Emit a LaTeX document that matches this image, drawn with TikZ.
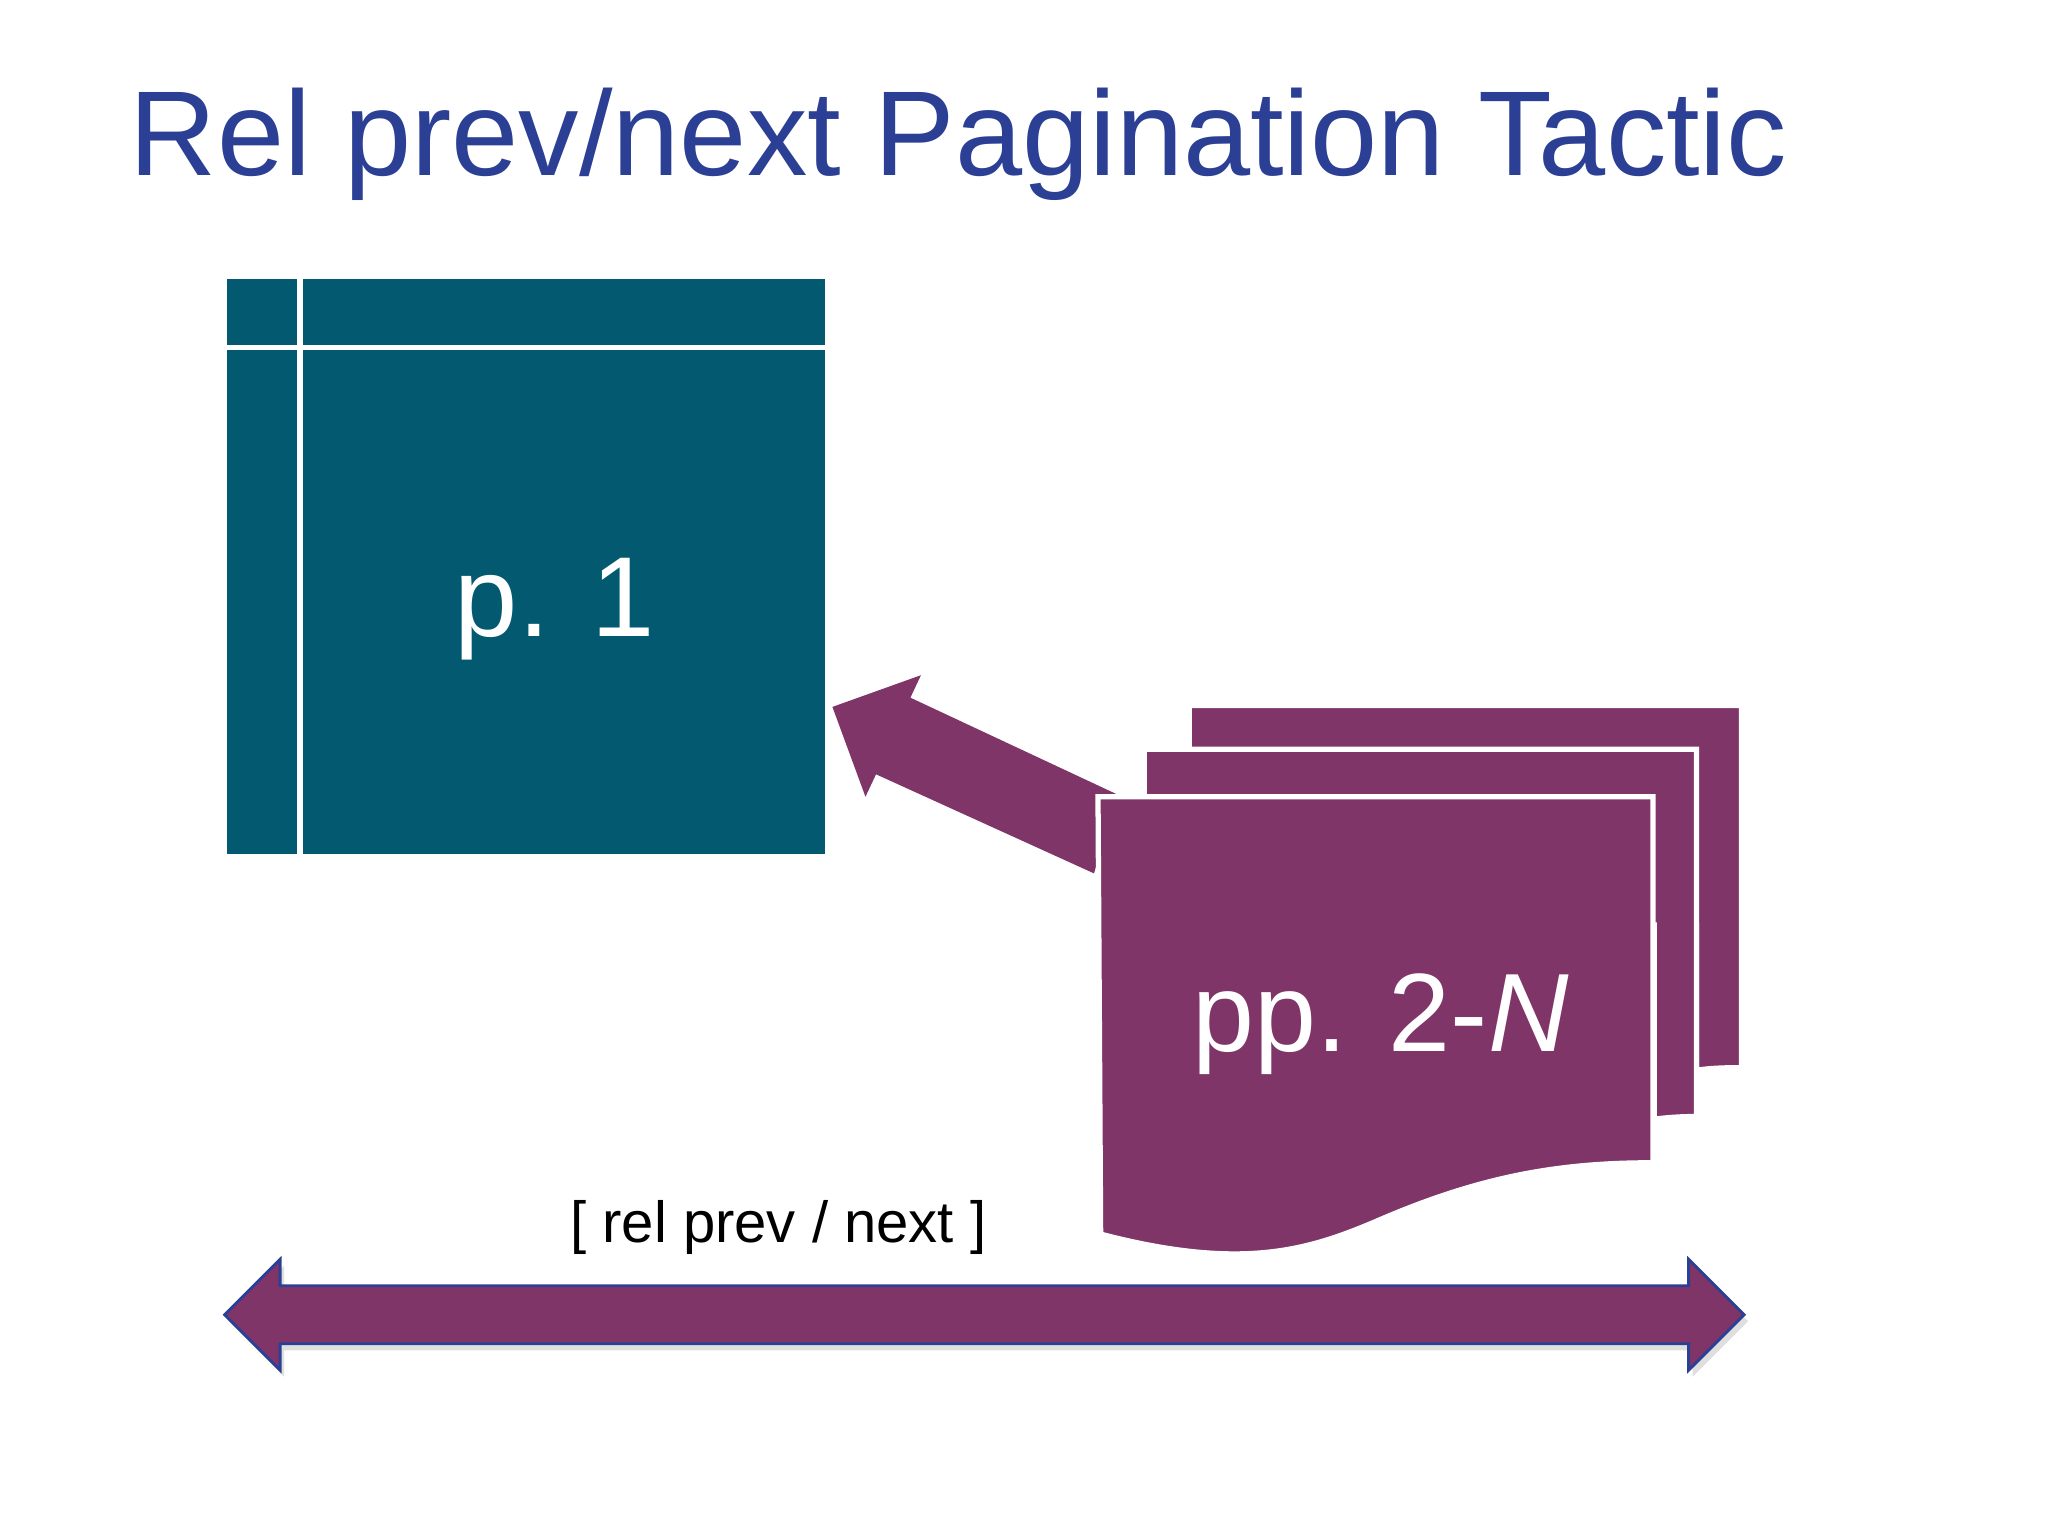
\documentclass[tikz,border=0pt]{standalone}
\usepackage{fontspec}
\setmainfont{Liberation Sans}
\definecolor{ttl}{HTML}{2B3F95}
\definecolor{teal}{HTML}{035A70}
\definecolor{plum}{HTML}{7F3567}
\begin{document}
\begin{tikzpicture}[x=0.02cm,y=-0.02cm,
  page/.style={fill=plum,draw=white,line width=4*0.567pt},
  wt/.style={text=white,inner sep=0pt}]
\useasboundingbox (0,0) rectangle (1550,1162.5);
\fill[white] (0,0) rectangle (1550,1162.5);
\node[text=ttl,font=\fontsize{52}{60}\selectfont,anchor=base west,inner sep=0pt] (title) at (98,133) {Rel prev/next Pagination Tactic};
% page 1
\fill[teal] (172,211) rectangle (624,646);
\draw[white,line width=4*0.567pt] (227,211) -- (227,646) (172,263) -- (624,263);
\node[wt,font=\fontsize{49}{56}\selectfont,anchor=base] (p1) at (420,482) {p. 1};
% arrow
\fill[plum] (828,661) -- (663,586) -- (655,603) -- (630,535) -- (697,511) -- (689,528) -- (845,601) -- cycle;
% stack
\draw[page] (900,534) -- (1318,534) -- (1318,808) .. controls (1300,808) and (1290,809) .. (1284,810) -- (1284,700) -- (900,700) -- cycle;
\draw[page] (866,567) -- (1284,567) -- (1284,845) .. controls (1270,845) and (1260,846) .. (1252,847) -- (1252,700) -- (866,700) -- cycle;
\draw[page] (831,603) -- (1251,603) -- (1251,880) .. controls (1180,880) and (1120,890) .. (1040,925) .. controls (990,946) and (940,962) .. (833,934) -- cycle;
\node[wt,font=\fontsize{48}{56}\selectfont,anchor=base] (pp) at (1045,796) {pp. 2-\textit{N}};
% label
\node[font=\fontsize{25}{30}\selectfont,anchor=base,inner sep=0pt] (lbl) at (589,940) {[ rel prev / next ]};
% double arrow
\fill[gray!25] (173,1000) -- (215,958) -- (215,978) -- (1281,978) -- (1281,958) -- (1323,1000) -- (1281,1042) -- (1281,1022) -- (215,1022) -- (215,1042) -- cycle;
\draw[fill=plum,draw=ttl,line width=1.2pt] (170,995) -- (212,953) -- (212,973) -- (1278,973) -- (1278,953) -- (1320,995) -- (1278,1037) -- (1278,1017) -- (212,1017) -- (212,1037) -- cycle;
\end{tikzpicture}
\end{document}
